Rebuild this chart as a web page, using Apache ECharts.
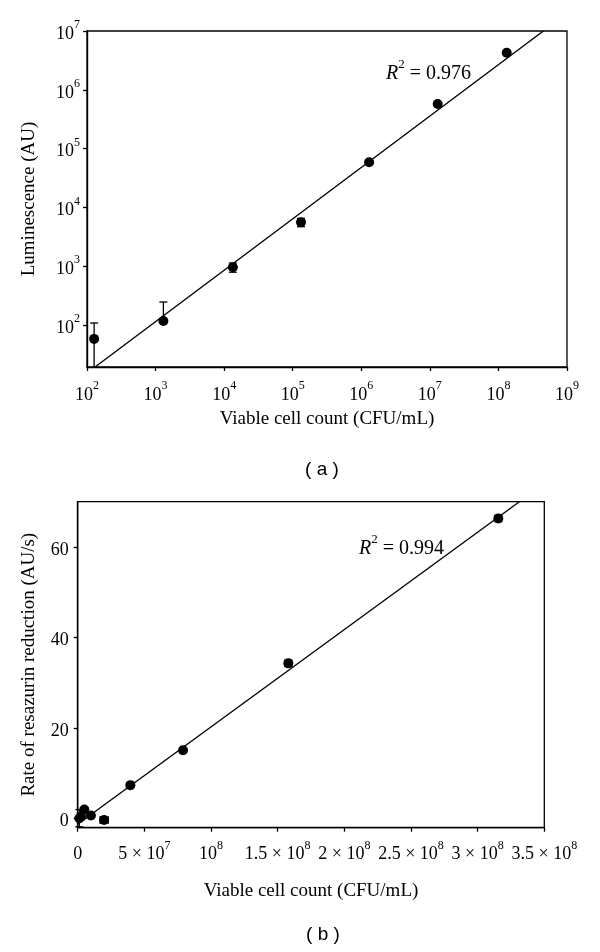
<!DOCTYPE html>
<html>
<head>
<meta charset="utf-8">
<script src="https://cdn.jsdelivr.net/npm/echarts@6/dist/echarts.min.js"></script>
<style>
html,body{margin:0;padding:0;background:#fff;}
#chart{width:600px;height:952px;}
</style>
</head>
<body>
<div id="chart"></div>
<script>
// ---------- Panel (a) data ----------
const cellCountA = [127, 1300, 13400, 132000, 1.3e6, 1.3e7, 1.32e8];
const luminescenceA = [58, 117, 960, 5600, 58500, 573000, 4.27e6];
const errLowA = [8, 117, 790, 4700, 54000, 540000, 4.0e6];
const errHighA = [108, 246, 1130, 6500, 63000, 610000, 4.5e6];
const fitXA = [131, 4.52e8];
const fitYA = [19.3, 1e7];
const yTicksA = [100, 1000, 10000, 100000, 1000000, 10000000];
const xTicksA = [100, 1000, 10000, 100000, 1e6, 1e7, 1e8, 1e9];

// ---------- Panel (b) data ----------
const cellCountB = [1.23e6, 2.47e6, 4.94e6, 9.9e6, 1.98e7, 3.95e7, 7.9e7, 1.58e8, 3.155e8];
const rateB = [0.1, 0.4, 2.0, 0.7, -0.3, 7.4, 15.1, 34.3, 66.3];
const xErrB = [0, 0, 0, 1.5e6, 3.0e6, 2.0e6, 1.5e6, 2.5e6, 2.5e6];
const yErrB = [1.9, 0, 0.4, 0, 0, 0, 0, 0, 0];
const fitXB = [0, 3.313e8];
const fitYB = [-1.24, 70];
const yTicksB = [0, 20, 40, 60];
const xTickLabelsB = ['0', '5 × 10|7', '10|8', '1.5 × 10|8', '2 × 10|8', '2.5 × 10|8', '3 × 10|8', '3.5 × 10|8'];

const SERIF = '"Liberation Serif", "DejaVu Serif", serif';
const INK = '#000';

const rich = {
  b: {fontSize: 18, fontFamily: SERIF, color: INK, lineHeight: 24, verticalAlign: 'bottom'},
  s: {fontSize: 12, fontFamily: SERIF, color: INK, lineHeight: 14, verticalAlign: 'top'}
};
function powLabel(v) {
  const e = Math.round(Math.log10(v));
  return '{b|10}{s|' + e + '}';
}
function bLabel(v) {
  const idx = Math.round(v / 5e7);
  const t = xTickLabelsB[idx];
  if (t === undefined) return '';
  const parts = t.split('|');
  if (parts.length === 1) return '{b|' + parts[0] + '}';
  return '{b|' + parts[0] + '}{s|' + parts[1] + '}';
}

function renderErr(params, api) {
  const x = api.value(0), y = api.value(1);
  const xlo = api.value(2), xhi = api.value(3), ylo = api.value(4), yhi = api.value(5);
  const p = api.coord([x, y]);
  const cs = params.coordSys;
  const bottom = cs.y + cs.height;
  const children = [];
  const cap = 4;
  const st = {stroke: INK, lineWidth: 1.3};
  function vbar(v) {
    let q = api.coord([x, v]);
    let capped = true;
    if (q[1] > bottom) { q[1] = bottom; capped = false; }
    children.push({type: 'line', shape: {x1: p[0], y1: p[1], x2: q[0], y2: q[1]}, style: st});
    if (capped) children.push({type: 'line', shape: {x1: q[0] - cap, y1: q[1], x2: q[0] + cap, y2: q[1]}, style: st});
  }
  function hbar(v) {
    const q = api.coord([v, y]);
    children.push({type: 'line', shape: {x1: p[0], y1: p[1], x2: q[0], y2: q[1]}, style: st});
    children.push({type: 'line', shape: {x1: q[0], y1: q[1] - cap, x2: q[0], y2: q[1] + cap}, style: st});
  }
  if (yhi > y) vbar(yhi);
  if (ylo < y) vbar(ylo);
  if (xhi > x) hbar(xhi);
  if (xlo < x) hbar(xlo);
  return {type: 'group', children: children};
}

const errDataA = cellCountA.map((x, i) => [x, luminescenceA[i], x, x, errLowA[i], errHighA[i]]);
const errDataB = cellCountB.map((x, i) => [x, rateB[i], x - xErrB[i], x + xErrB[i], rateB[i] - yErrB[i], rateB[i] + yErrB[i]]);

const axisLineStyle = {show: true, onZero: false, lineStyle: {color: INK, width: 1.4}};
const tickStyle = {show: true, inside: false, length: 4, lineStyle: {color: INK, width: 1.3}};
const nameStyle = {fontFamily: SERIF, fontSize: 19, color: INK};
const R2rich = {
  i: {fontSize: 20, fontStyle: 'italic', fontFamily: SERIF, fill: INK, lineHeight: 26, verticalAlign: 'bottom'},
  s: {fontSize: 13, fontFamily: SERIF, fill: INK, lineHeight: 14, verticalAlign: 'top'},
  n: {fontSize: 20, fontFamily: SERIF, fill: INK, lineHeight: 26, verticalAlign: 'bottom'}
};

const option = {
  backgroundColor: '#fff',
  animation: false,
  grid: [
    {left: 87, top: 31, width: 480, height: 336, show: true, borderColor: INK, borderWidth: 1.3, backgroundColor: 'transparent', containLabel: false},
    {left: 77.7, top: 501.7, width: 466.6, height: 326, show: true, borderColor: INK, borderWidth: 1.3, backgroundColor: 'transparent', containLabel: false}
  ],
  xAxis: [
    {
      gridIndex: 0, type: 'log', logBase: 10, min: 100, max: 1e9,
      name: 'Viable cell count (CFU/mL)', nameLocation: 'middle', nameGap: 43,
      nameTextStyle: nameStyle,
      axisLine: axisLineStyle, axisTick: Object.assign({customValues: xTicksA}, tickStyle),
      splitLine: {show: false}, minorTick: {show: false},
      axisLabel: {customValues: xTicksA, formatter: powLabel, rich: rich, margin: 13, showMinLabel: true, showMaxLabel: true}
    },
    {
      gridIndex: 1, type: 'value', min: 0, max: 3.5e8, interval: 5e7,
      name: 'Viable cell count (CFU/mL)', nameLocation: 'middle', nameGap: 54,
      nameTextStyle: nameStyle,
      axisLine: axisLineStyle, axisTick: tickStyle,
      splitLine: {show: false},
      axisLabel: {formatter: bLabel, rich: rich, margin: 12, showMinLabel: true, showMaxLabel: true}
    }
  ],
  yAxis: [
    {
      gridIndex: 0, type: 'log', logBase: 10, min: 19.3, max: 1e7,
      name: 'Luminescence (AU)', nameLocation: 'middle', nameGap: 48, nameRotate: 90,
      nameTextStyle: nameStyle,
      axisLine: axisLineStyle, axisTick: Object.assign({customValues: yTicksA}, tickStyle),
      splitLine: {show: false}, minorTick: {show: false},
      axisLabel: {customValues: yTicksA, formatter: powLabel, rich: rich, margin: 7}
    },
    {
      gridIndex: 1, type: 'value', min: -2, max: 70,
      name: 'Rate of resazurin reduction (AU/s)', nameLocation: 'middle', nameGap: 39, nameRotate: 90,
      nameTextStyle: nameStyle,
      axisLine: axisLineStyle, axisTick: Object.assign({customValues: yTicksB}, tickStyle),
      splitLine: {show: false},
      axisLabel: {customValues: yTicksB, formatter: v => '{b|' + v + '}', rich: rich, margin: 9}
    }
  ],
  series: [
    {type: 'line', xAxisIndex: 0, yAxisIndex: 0, data: fitXA.map((x, i) => [x, fitYA[i]]), symbol: 'none', lineStyle: {color: INK, width: 1.4}, z: 2, silent: true},
    {type: 'custom', xAxisIndex: 0, yAxisIndex: 0, data: errDataA, renderItem: renderErr, z: 3, silent: true},
    {type: 'scatter', xAxisIndex: 0, yAxisIndex: 0, data: cellCountA.map((x, i) => [x, luminescenceA[i]]), symbol: 'circle', symbolSize: 10, itemStyle: {color: INK, opacity: 1}, z: 4},
    {type: 'line', xAxisIndex: 1, yAxisIndex: 1, data: fitXB.map((x, i) => [x, fitYB[i]]), symbol: 'none', lineStyle: {color: INK, width: 1.4}, z: 2, silent: true},
    {type: 'custom', xAxisIndex: 1, yAxisIndex: 1, data: errDataB, renderItem: renderErr, z: 3, silent: true},
    {type: 'scatter', xAxisIndex: 1, yAxisIndex: 1, data: cellCountB.map((x, i) => [x, rateB[i]]), symbol: 'circle', symbolSize: 10, itemStyle: {color: INK, opacity: 1}, z: 4}
  ],
  graphic: [
    {type: 'text', x: 386, y: 71, style: {text: '{i|R}{s|2}{n| = 0.976}', textVerticalAlign: 'middle', rich: R2rich}},
    {type: 'text', x: 359, y: 546, style: {text: '{i|R}{s|2}{n| = 0.994}', textVerticalAlign: 'middle', rich: R2rich}},
    {type: 'text', x: 322, y: 470, style: {text: '( a )', textAlign: 'center', textVerticalAlign: 'middle', font: '19px "Liberation Sans", Arial, sans-serif', fill: INK}},
    {type: 'text', x: 323, y: 935, style: {text: '( b )', textAlign: 'center', textVerticalAlign: 'middle', font: '19px "Liberation Sans", Arial, sans-serif', fill: INK}}
  ]
};

const chart = echarts.init(document.getElementById('chart'), null, {renderer: 'canvas'});
chart.setOption(option);
</script>
</body>
</html>
